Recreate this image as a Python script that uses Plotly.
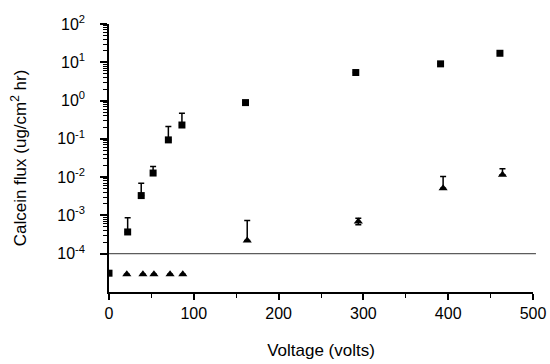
import plotly.graph_objects as go

# Squares (upper series)
sq_x = [0, 22, 38, 52, 70, 86, 161, 291, 391, 461]
sq_y = [3.1e-5, 3.7e-4, 3.3e-3, 0.0128, 0.094, 0.23, 0.885, 5.4, 9.1, 17.2]
sq_err_top = [None, 8.7e-4, 6.9e-3, 0.019, 0.21, 0.47, None, None, None, None]

# Triangles (lower series)
tr_x = [21, 40, 53, 72, 87, 163, 294, 394, 464]
tr_y = [2.9e-5, 2.9e-5, 2.9e-5, 2.9e-5, 2.9e-5, 2.2e-4, 6.9e-4, 5.1e-3, 0.0115]
tr_err_top = [None, None, None, None, None, 7.4e-4, 8.5e-4, 0.0104, 0.0165]
tr_err_bot = [None, None, None, None, None, None, 5.7e-4, None, None]

detection_limit = 1e-4

x_ticks = [0, 100, 200, 300, 400, 500]
y_tick_exp = [-4, -3, -2, -1, 0, 1, 2]


def plus(vals, top):
    return [0 if t is None else t - v for v, t in zip(vals, top)]


def minus(vals, bot):
    return [0 if b is None else v - b for v, b in zip(vals, bot)]


fig = go.Figure()

fig.add_trace(go.Scatter(
    x=sq_x, y=sq_y, mode="markers",
    marker=dict(symbol="square", size=7, color="black"),
    error_y=dict(type="data", symmetric=False,
                 array=plus(sq_y, sq_err_top), arrayminus=[0] * len(sq_y),
                 color="black", thickness=1.5, width=3),
    showlegend=False,
))

fig.add_trace(go.Scatter(
    x=tr_x, y=tr_y, mode="markers",
    marker=dict(symbol="triangle-up", size=8, color="black"),
    error_y=dict(type="data", symmetric=False,
                 array=plus(tr_y, tr_err_top), arrayminus=minus(tr_y, tr_err_bot),
                 color="black", thickness=1.5, width=3),
    showlegend=False,
))

fig.add_shape(type="line", xref="paper", yref="y", x0=0, x1=1.007,
              y0=detection_limit, y1=detection_limit,
              line=dict(color="#333333", width=1))

minor_y = []
for e in range(-4, 2):
    for m in range(2, 10):
        minor_y.append(m * 10 ** e)

font = "Liberation Sans, Arial, Helvetica, sans-serif"

fig.update_layout(
    width=550, height=364,
    margin=dict(l=109, r=17, t=24, b=72),
    paper_bgcolor="white", plot_bgcolor="white",
    font=dict(family=font, size=16, color="black"),
    xaxis=dict(
        range=[0, 500], tickmode="array", tickvals=x_ticks,
        ticktext=[str(v) for v in x_ticks],
        ticks="outside", ticklen=6, tickwidth=1.5, tickcolor="black",
        showline=True, linecolor="black", linewidth=1.5,
        showgrid=False, zeroline=False, automargin=False,
        minor=dict(tickvals=[50, 150, 250, 350, 450], ticks="outside",
                   ticklen=4, tickwidth=1.2, tickcolor="black", showgrid=False),
        title=dict(text="Voltage (volts)", font=dict(size=17), standoff=23),
    ),
    yaxis=dict(
        type="log", range=[-5, 2],
        tickmode="array", tickvals=[10 ** e for e in y_tick_exp],
        ticktext=["10<sup>%d</sup>" % e for e in y_tick_exp],
        ticks="outside", ticklen=7, tickwidth=1.5, tickcolor="black",
        ticklabelstandoff=12, automargin=False,
        showline=True, linecolor="black", linewidth=1.5,
        showgrid=False, zeroline=False,
        minor=dict(tickvals=minor_y, ticks="outside", ticklen=4,
                   tickwidth=1, tickcolor="black", showgrid=False),
        title=dict(text="Calcein flux (ug/cm<sup>2</sup> hr)", font=dict(size=17),
                   standoff=26),
    ),
)

fig.write_html("out.html")
